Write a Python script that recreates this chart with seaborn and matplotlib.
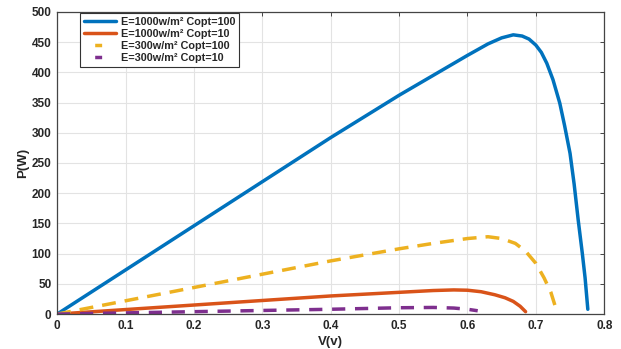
import numpy as np
import pandas as pd
import matplotlib
matplotlib.use("Agg")
import matplotlib.pyplot as plt
import seaborn as sns

# Data
v_blue = [0, 0.1, 0.2, 0.3, 0.4, 0.5, 0.55, 0.6, 0.63, 0.65, 0.667, 0.68, 0.69, 0.7, 0.708, 0.716, 0.725,
          0.735, 0.742, 0.75, 0.756, 0.762, 0.768, 0.772, 0.776]
p_blue = [0, 73, 146, 219, 292, 362, 395, 428, 447, 457, 462, 460, 455, 445, 433, 415, 388,
          349, 312, 266, 215, 155, 100, 60, 8]

v_red = [0, 0.1, 0.2, 0.3, 0.4, 0.5, 0.55, 0.58, 0.6, 0.62, 0.64, 0.655, 0.667, 0.677, 0.685]
p_red = [0, 7.5, 15, 22.5, 30, 36, 39, 40, 39.5, 37, 32, 27, 21, 13, 4]

v_yel = [0, 0.1, 0.2, 0.3, 0.4, 0.5, 0.55, 0.6, 0.63, 0.65, 0.67, 0.685, 0.7, 0.712, 0.722, 0.73]
p_yel = [0, 22, 44, 66, 88, 108, 117, 125, 128, 125, 117, 104, 84, 60, 36, 7]

v_pur = [0, 0.1, 0.2, 0.3, 0.4, 0.5, 0.55, 0.58, 0.6, 0.615]
p_pur = [0, 2, 4, 6, 8, 10.5, 11, 10, 8, 5.5]

labels = ["E=1000w/m² Copt=100",
          "E=1000w/m² Copt=10",
          "E=300w/m² Copt=100",
          "E=300w/m² Copt=10"]
colors = ["#0072BD", "#D95319", "#EDB120", "#7E2F8E"]
x_ticks = [0, 0.1, 0.2, 0.3, 0.4, 0.5, 0.6, 0.7, 0.8]
x_tick_labels = ["0", "0.1", "0.2", "0.3", "0.4", "0.5", "0.6", "0.7", "0.8"]
y_ticks = [0, 50, 100, 150, 200, 250, 300, 350, 400, 450, 500]

sns.set_style("whitegrid")
plt.rcParams['font.family'] = ['Liberation Sans', 'DejaVu Sans']

frames = []
for v, p, lab in [(v_blue, p_blue, labels[0]), (v_red, p_red, labels[1]),
                  (v_yel, p_yel, labels[2]), (v_pur, p_pur, labels[3])]:
    frames.append(pd.DataFrame({"V": v, "P": p, "series": lab}))
df = pd.concat(frames, ignore_index=True)

fig = plt.figure(figsize=(6.21, 3.49), dpi=100)
ax = fig.add_axes([0.092, 0.100, 0.881, 0.866])

sns.lineplot(data=df, x="V", y="P", hue="series", style="series",
             hue_order=labels, style_order=labels,
             palette=colors,
             dashes={labels[0]: "", labels[1]: "", labels[2]: (4, 2.6), labels[3]: (3.8, 2.8)},
             linewidth=2.5, sort=False, estimator=None, ax=ax)

ax.set_xlim(0, 0.8)
ax.set_ylim(0, 500)
ax.set_xticks(x_ticks)
ax.set_xticklabels(x_tick_labels)
ax.set_yticks(y_ticks)
ax.grid(True, color="#e3e3e3", linewidth=0.8)
for s in ax.spines.values():
    s.set_color("#444444")
    s.set_linewidth(0.9)
ax.tick_params(axis="both", direction="in", length=3, width=0.7, color="#444444",
               labelsize=8.5, top=True, right=True, pad=4)
for t in ax.get_xticklabels() + ax.get_yticklabels():
    t.set_fontweight("bold")
ax.set_xlabel("V(v)", fontsize=9.5, fontweight="bold", labelpad=3)
ax.set_ylabel("P(W)", fontsize=9.5, fontweight="bold", labelpad=2)

fs = 7.8
hlen = 3.0
leg = ax.legend(loc="upper left", bbox_to_anchor=(0.04, 1.0), borderaxespad=0.1,
                prop={"weight": "bold", "size": fs}, frameon=True, fancybox=False,
                edgecolor="#333333", framealpha=1, handlelength=hlen,
                borderpad=0.35, labelspacing=0.2, handletextpad=0.4)
leg.get_frame().set_linewidth(0.8)
# dashed legend handles show a single short dash centred, as in the reference
handle_len = hlen * fs
for ln in leg.get_lines()[2:]:
    lw = ln.get_linewidth()
    on_pt = 5.0
    period_pt = handle_len + 4
    start_pt = handle_len / 2 - on_pt / 2 - 1.5
    ln.set_linestyle(((period_pt - start_pt) / lw, (on_pt / lw, (period_pt - on_pt) / lw)))

fig.savefig("out.png", dpi=100)
